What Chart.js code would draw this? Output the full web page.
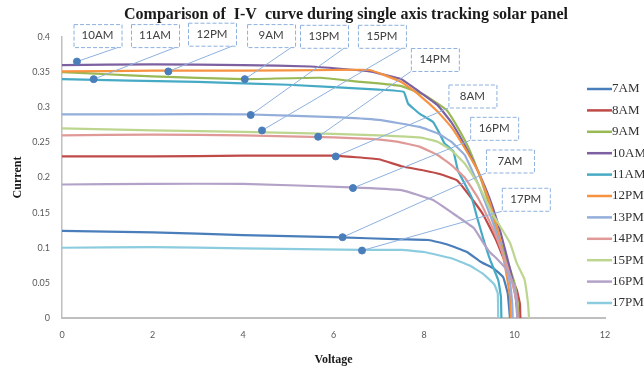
<!DOCTYPE html>
<html lang="en">
<head>
<meta charset="UTF-8" />
<title>I-V curve comparison</title>
<script src="https://cdn.jsdelivr.net/npm/chart.js"></script>
<style>
  html, body { margin: 0; padding: 0; background: #fff; }
</style>
</head>
<body>
<canvas id="chart" width="644" height="368"></canvas>
<script>
  // legend order
  const hours = ['7AM', '8AM', '9AM', '10AM', '11AM', '12PM', '13PM', '14PM', '15PM', '16PM', '17PM'];
  const colors = ['#4A7EBB', '#BE4B48', '#98B954', '#7D60A0', '#46AAC5', '#F69240',
                  '#93AEDA', '#DF9A98', '#BDD68F', '#B3A2C7', '#8CCCDF'];

  // voltage (V) / current (A)
  const v7AM = [0, 2, 4, 6, 7.5, 8.1, 8.5, 8.95, 9.25, 9.55, 9.75, 9.85, 9.9];
  const i7AM = [0.124, 0.122, 0.118, 0.115, 0.112, 0.111, 0.105, 0.094, 0.080, 0.070, 0.058, 0.035, 0];
  const v8AM = [0, 2, 4, 6, 7, 7.5, 8.0, 8.35, 8.73, 9.02, 9.3, 9.6, 9.85, 10.05, 10.12, 10.13];
  const i8AM = [0.230, 0.230, 0.231, 0.231, 0.226, 0.216, 0.210, 0.205, 0.196, 0.173, 0.148, 0.11, 0.07, 0.04, 0.02, 0];
  const v9AM = [0, 1, 2, 4, 5.7, 6.6, 7.0, 7.5, 8.0, 8.5, 8.8, 9.0, 9.25, 9.5, 9.7, 9.9, 10.0, 10.07, 10.08];
  const i9AM = [0.350, 0.347, 0.344, 0.340, 0.342, 0.336, 0.334, 0.330, 0.318, 0.296, 0.265, 0.240, 0.199, 0.150, 0.107, 0.070, 0.050, 0.020, 0];
  const v10AM = [0, 2, 4, 5.5, 6.8, 7.5, 7.9, 8.3, 8.6, 8.9, 9.2, 9.45, 9.7, 9.9, 10.0, 10.05, 10.06];
  const i10AM = [0.360, 0.361, 0.360, 0.358, 0.351, 0.340, 0.322, 0.303, 0.279, 0.246, 0.208, 0.170, 0.120, 0.070, 0.040, 0.015, 0];
  const v11AM = [0, 3, 5, 7, 7.55, 7.65, 7.9, 8.2, 8.35, 8.45, 8.65, 8.75, 9.05, 9.17, 9.3, 9.46, 9.64, 9.7, 9.71];
  const i11AM = [0.340, 0.336, 0.332, 0.325, 0.322, 0.305, 0.291, 0.279, 0.262, 0.249, 0.237, 0.210, 0.172, 0.144, 0.115, 0.083, 0.054, 0.030, 0];
  const v12PM = [0, 2, 4, 6, 6.8, 7.5, 7.9, 8.3, 8.6, 8.9, 9.2, 9.45, 9.65, 9.8, 9.9, 9.92];
  const i12PM = [0.351, 0.352, 0.352, 0.353, 0.353, 0.336, 0.317, 0.294, 0.272, 0.242, 0.208, 0.165, 0.120, 0.070, 0.030, 0];
  const v13PM = [0, 2, 4, 6, 7, 7.9, 8.3, 8.6, 8.9, 9.2, 9.5, 9.75, 9.9, 9.95, 9.96];
  const i13PM = [0.290, 0.290, 0.290, 0.286, 0.282, 0.272, 0.263, 0.251, 0.232, 0.190, 0.140, 0.090, 0.050, 0.020, 0];
  const v14PM = [0, 2, 4, 6, 6.8, 7.4, 7.9, 8.3, 8.6, 8.9, 9.2, 9.5, 9.75, 9.95, 10.05, 10.07];
  const i14PM = [0.260, 0.261, 0.260, 0.257, 0.255, 0.251, 0.244, 0.232, 0.218, 0.200, 0.170, 0.130, 0.090, 0.050, 0.020, 0];
  const v15PM = [0, 2, 4, 6, 7, 7.9, 8.3, 8.6, 8.9, 9.2, 9.5, 9.9, 10.05, 10.22, 10.3, 10.32];
  const i15PM = [0.270, 0.267, 0.265, 0.262, 0.260, 0.257, 0.251, 0.239, 0.220, 0.190, 0.150, 0.107, 0.078, 0.055, 0.020, 0];
  const v16PM = [0, 2, 4, 6.4, 7.5, 8.2, 8.75, 9.1, 9.3, 9.45, 9.6, 9.85, 10.0, 10.05, 10.06];
  const i16PM = [0.190, 0.191, 0.191, 0.186, 0.182, 0.168, 0.144, 0.128, 0.108, 0.094, 0.085, 0.067, 0.045, 0.020, 0];
  const v17PM = [0, 2, 4, 6.6, 7.5, 8.0, 8.6, 9.0, 9.3, 9.55, 9.63, 9.64];
  const i17PM = [0.100, 0.101, 0.099, 0.097, 0.097, 0.094, 0.085, 0.075, 0.063, 0.048, 0.035, 0];

  const volts = [v7AM, v8AM, v9AM, v10AM, v11AM, v12PM, v13PM, v14PM, v15PM, v16PM, v17PM];
  const amps = [i7AM, i8AM, i9AM, i10AM, i11AM, i12PM, i13PM, i14PM, i15PM, i16PM, i17PM];

  // callout markers sitting on the curves
  const calloutLabels = ['10AM', '11AM', '12PM', '9AM', '13PM', '15PM', '14PM', '8AM', '16PM', '7AM', '17PM'];
  const markerV = [0.33, 0.7, 2.35, 4.04, 4.17, 4.42, 5.66, 6.05, 6.43, 6.2, 6.63];
  const markerI = [0.365, 0.340, 0.351, 0.340, 0.289, 0.267, 0.258, 0.230, 0.185, 0.115, 0.096];
  // where each callout box sits (centre, in axis units)
  const boxV = [0.785, 2.055, 3.315, 4.62, 5.79, 7.07, 8.24, 9.07, 9.55, 9.9, 10.25];
  const boxI = [0.402, 0.402, 0.404, 0.402, 0.401, 0.401, 0.368, 0.316, 0.270, 0.2235, 0.169];

  const xTicks = [0, 2, 4, 6, 8, 10, 12];
  const yTicks = [0, 0.05, 0.1, 0.15, 0.2, 0.25, 0.3, 0.35, 0.4];

  const datasets = hours.map((h, k) => ({
    label: h,
    data: volts[k].map((v, j) => ({ x: v, y: amps[k][j] })),
    borderColor: colors[k],
    backgroundColor: colors[k],
    borderWidth: 2.2,
    pointRadius: 0,
    tension: 0.1,
    fill: false,
    order: 100 - k
  }));

  datasets.push({
    label: 'markers',
    data: markerV.map((v, j) => ({ x: v, y: markerI[j] })),
    showLine: false,
    pointRadius: 3.5,
    pointBackgroundColor: '#4A7EBB',
    pointBorderColor: '#4A7EBB',
    order: 0
  });
  const markerIndex = datasets.length - 1;

  const callouts = {
    id: 'callouts',
    beforeDatasetDraw(chart, args) {
      if (args.index !== markerIndex) return;
      const ctx = chart.ctx, xs = chart.scales.x, ys = chart.scales.y;
      ctx.save();
      calloutLabels.forEach((txt, k) => {
        const mx = xs.getPixelForValue(markerV[k]);
        const my = ys.getPixelForValue(markerI[k]);
        const bx = xs.getPixelForValue(boxV[k]);
        const by = ys.getPixelForValue(boxI[k]);
        const top = by < chart.chartArea.top + 5;
        const ex = top ? bx + 20 : bx - 24;
        const ey = by + 12;
        ctx.setLineDash([]);
        ctx.strokeStyle = '#8EB1DE';
        ctx.lineWidth = 1;
        ctx.beginPath();
        ctx.moveTo(mx, my);
        ctx.lineTo(ex, ey);
        ctx.stroke();
      });
      calloutLabels.forEach((txt, k) => {
        const bx = xs.getPixelForValue(boxV[k]);
        const by = ys.getPixelForValue(boxI[k]);
        ctx.fillStyle = '#fff';
        ctx.fillRect(bx - 24, by - 11.5, 48, 23);
        ctx.setLineDash([4, 2]);
        ctx.strokeStyle = '#8EB1DE';
        ctx.lineWidth = 1;
        ctx.strokeRect(bx - 24 + 0.5, by - 11.5 + 0.5, 48, 23);
        ctx.fillStyle = '#404040';
        ctx.font = '11.5px Lato';
        ctx.textAlign = 'center';
        ctx.textBaseline = 'middle';
        ctx.fillText(txt, bx, by);
      });
      ctx.restore();
    },
    afterDraw(chart) {
      const ctx = chart.ctx;
      ctx.save();
      // title
      ctx.fillStyle = '#1a1a1a';
      ctx.font = 'bold 16px "Liberation Serif"';
      ctx.textAlign = 'center';
      ctx.textBaseline = 'middle';
      ctx.fillText('Comparison of  I-V  curve during single axis tracking solar panel', 346, 15);
      // legend
      const lx = chart.chartArea.right - 18;
      hours.forEach((h, k) => {
        const y = 89 + k * 21.4;
        ctx.strokeStyle = colors[k];
        ctx.lineWidth = 2.5;
        ctx.beginPath();
        ctx.moveTo(lx, y);
        ctx.lineTo(lx + 25, y);
        ctx.stroke();
        ctx.fillStyle = '#333';
        ctx.font = '13px "Liberation Serif"';
        ctx.textAlign = 'left';
        ctx.fillText(h, lx + 25, y);
      });
      ctx.restore();
    }
  };

  new Chart(document.getElementById('chart'), {
    type: 'line',
    data: { datasets: datasets },
    plugins: [callouts],
    options: {
      responsive: false,
      animation: false,
      layout: { padding: { left: 0, right: 39, top: 37, bottom: 0 } },
      plugins: {
        legend: { display: false },
        tooltip: { enabled: false }
      },
      scales: {
        x: {
          type: 'linear',
          min: 0,
          max: 12,
          afterBuildTicks: s => { s.ticks = xTicks.map(v => ({ value: v })); },
          afterFit: s => { s.height = 50; },
          grid: { display: false, drawTicks: false },
          border: { display: true, color: '#BFBFBF', width: 2 },
          ticks: { padding: 12, color: '#595959', font: { family: 'Lato', size: 9 } },
          title: {
            display: true,
            text: 'Voltage',
            color: '#1a1a1a',
            padding: { top: 0, bottom: 1 },
            font: { family: 'Liberation Serif', size: 12, weight: 'bold' }
          }
        },
        y: {
          type: 'linear',
          min: 0,
          max: 0.4,
          afterBuildTicks: s => { s.ticks = yTicks.map(v => ({ value: v })); },
          afterFit: s => { s.width = 62; },
          grid: { display: false, drawTicks: false },
          border: { display: true, color: '#BFBFBF', width: 1.5 },
          ticks: {
            padding: 12,
            color: '#595959',
            font: { family: 'Lato', size: 9 },
            callback: v => String(+v.toFixed(2))
          },
          title: {
            display: true,
            text: 'Current',
            color: '#1a1a1a',
            padding: { top: 11, bottom: 0 },
            font: { family: 'Liberation Serif', size: 12, weight: 'bold' }
          }
        }
      }
    }
  });
</script>
</body>
</html>
